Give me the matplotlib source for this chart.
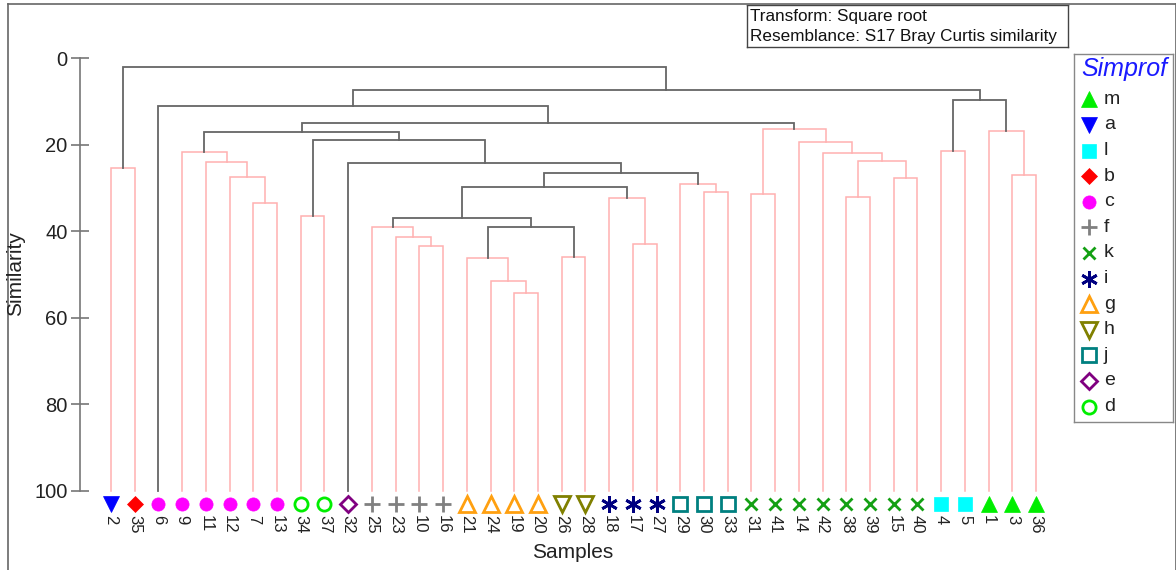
import matplotlib
matplotlib.use('Agg')
import matplotlib.pyplot as plt
from matplotlib.lines import Line2D

plt.rcParams['font.family'] = ['Liberation Sans', 'DejaVu Sans']

# ===================== data =====================
leaves = [2, 35, 6, 9, 11, 12, 7, 13, 34, 37, 32, 25, 23, 10, 16, 21, 24, 19, 20, 26,
          28, 18, 17, 27, 29, 30, 33, 31, 41, 14, 42, 38, 39, 15, 40, 4, 5, 1, 3, 36]
leaf_groups = ['a', 'b', 'c', 'c', 'c', 'c', 'c', 'c', 'd', 'd', 'e', 'f', 'f', 'f', 'f',
               'g', 'g', 'g', 'g', 'h', 'h', 'i', 'i', 'i', 'j', 'j', 'j',
               'k', 'k', 'k', 'k', 'k', 'k', 'k', 'k', 'l', 'l', 'm', 'm', 'm']

# merges: node id, left child, right child, similarity, simprof significant
merge_ids = ['n1', 'n2', 'n3', 'n4', 'n5', 'n6', 'n7', 'n8', 'n9', 'n10', 'n11', 'n12',
             'n13', 'n14', 'n15', 'n16', 'n17', 'n18', 'n19', 'n20', 'n21', 'n22', 'n23',
             'n24', 'n25', 'n26', 'n27', 'n28', 'n29', 'n30', 'n31', 'n32', 'n33', 'n34',
             'n35', 'n36', 'n37', 'n38', 'n39']
merge_left = [2, 7, 12, 11, 9, 34, 10, 23, 25, 19, 24, 21,
              26, 17, 18, 30, 29, 31, 38, 15, 'n19', 42, 14,
              'n18', 4, 3, 1, 'n12', 'n9', 'n29', 'n30', 32, 'n6', 'n5',
              'n34', 6, 'n25', 'n36', 'n1']
merge_right = [35, 13, 'n2', 'n3', 'n4', 37, 16, 'n7', 'n8', 20, 'n10', 'n11',
               28, 27, 'n14', 33, 'n16', 41, 39, 40, 'n20', 'n21', 'n22',
               'n23', 5, 36, 'n26', 'n13', 'n28', 'n15', 'n17', 'n31', 'n32', 'n33',
               'n24', 'n35', 'n27', 'n37', 'n38']
merge_sim = [25.4, 33.4, 27.5, 24.05, 21.6, 36.6, 43.4, 41.3, 38.95, 54.35, 51.5, 46.1,
             46.0, 43.0, 32.4, 30.85, 29.15, 31.45, 32.0, 27.6, 23.9, 21.95, 19.5,
             16.4, 21.45, 27.0, 16.95, 38.95, 37.0, 29.8, 26.6, 24.3, 18.9, 17.2,
             15.05, 11.2, 9.65, 7.35, 2.1]
merge_sig = [False] * 27 + [True] * 12

legend_groups = ['m', 'a', 'l', 'b', 'c', 'f', 'k', 'i', 'g', 'h', 'j', 'e', 'd']

# symbol per Simprof group: marker, colour, filled
group_style = {
    'm': ('^', '#00ee00', True),
    'a': ('v', '#0000ff', True),
    'l': ('s', '#00ffff', True),
    'b': ('D', '#ff0000', True),
    'c': ('o', '#ff00ff', True),
    'f': ('+', '#808080', False),
    'k': ('x', '#14a014', False),
    'i': ((6, 2, 0), '#000080', False),
    'g': ('^', '#ffa010', False),
    'h': ('v', '#808000', False),
    'j': ('s', '#008080', False),
    'e': ('D', '#800080', False),
    'd': ('o', '#00ee00', False),
}
marker_size = {'^': 11.5, 'v': 11.5, 's': 9.5, 'D': 8, 'o': 9.5, '+': 12, 'x': 9,
               (6, 2, 0): 12}


def draw_marker(ax, x, y, g, **kw):
    m, c, filled = group_style[g]
    ms = marker_size[m]
    if filled:
        ax.plot(x, y, marker=m, color=c, markersize=ms, markeredgewidth=0.5,
                linestyle='none', **kw)
    else:
        ax.plot(x, y, marker=m, markerfacecolor='none', markeredgecolor=c,
                markersize=ms, markeredgewidth=2, linestyle='none', **kw)


RED = '#ffb0b0'
GREY = '#666666'
TXT = '#222222'

W, H = 1176, 570


def fx(px):
    return px / W


def fy(py):
    return 1 - py / H


fig = plt.figure(figsize=(W / 100, H / 100), dpi=100)

# ===================== dendrogram =====================
ax = fig.add_axes([fx(80), fy(491), fx(1060) - fx(80), fy(58) - fy(491)])
step = 23.72
ax.set_xlim(-(111 - 80) / step, (1060 - 111) / step)
ax.set_ylim(100, 0)

pos = {lab: (i, 100.0) for i, lab in enumerate(leaves)}
merges = {mid: (l, r, s, sig) for mid, l, r, s, sig in
          zip(merge_ids, merge_left, merge_right, merge_sim, merge_sig)}


def node_pos(n):
    if n not in pos:
        l, r, s, _ = merges[n]
        xl, _ = node_pos(l)
        xr, _ = node_pos(r)
        pos[n] = ((xl + xr) / 2, s)
    return pos[n]


# red (non significant) first so the grey links stay on top
for sig_pass in (False, True):
    for mid in merge_ids:
        l, r, s, sig = merges[mid]
        if sig != sig_pass:
            continue
        xl, yl = node_pos(l)
        xr, yr = node_pos(r)
        col = GREY if sig else RED
        lw = 1.3 if sig else 1.1
        ax.plot([xl, xl, xr, xr], [yl, s, s, yr], color=col, lw=lw,
                solid_joinstyle='miter', clip_on=False)

for i, (lab, g) in enumerate(zip(leaves, leaf_groups)):
    draw_marker(ax, i, 103.0, g, clip_on=False)
    ax.text(i, 105.6, str(lab), rotation=270, ha='center', va='top', fontsize=12,
            color=TXT, clip_on=False)

for sp in ['top', 'right', 'bottom']:
    ax.spines[sp].set_visible(False)
ax.spines['left'].set_color('#777777')
ax.spines['left'].set_linewidth(1.2)
ax.set_xticks([])
ax.set_yticks([0, 20, 40, 60, 80, 100])
ax.tick_params(axis='y', direction='inout', length=13, width=1.2, color='#777777',
               labelsize=14.5, labelcolor=TXT, pad=2.5)
ax.patch.set_alpha(0)

fig.text(fx(573), fy(553), 'Samples', ha='center', va='center', fontsize=15, color=TXT)
fig.text(fx(16), fy(274), 'Similarity', ha='center', va='center', rotation=90,
         fontsize=15, color=TXT)

# ===================== info box =====================
box = fig.add_axes([fx(747), fy(47), fx(1068) - fx(747), fy(5) - fy(47)])
box.set_xlim(747, 1068)
box.set_ylim(47, 5)
box.set_xticks([])
box.set_yticks([])
for sp in box.spines.values():
    sp.set_color('#444444')
    sp.set_linewidth(1.0)
box.text(750, 16, 'Transform: Square root', fontsize=12.3, va='center', ha='left',
         color='#111111')
box.text(750, 36.5, 'Resemblance: S17 Bray Curtis similarity', fontsize=12.3,
         va='center', ha='left', color='#111111')

# ===================== legend =====================
leg = fig.add_axes([fx(1074), fy(422), fx(1173) - fx(1074), fy(54) - fy(422)])
leg.set_xlim(1074, 1173)
leg.set_ylim(422, 54)
leg.set_xticks([])
leg.set_yticks([])
for sp in leg.spines.values():
    sp.set_color('#888888')
    sp.set_linewidth(1.0)
leg.text(1124.5, 69, 'Simprof', ha='center', va='center', fontsize=18, style='italic',
         color='#1a1aff')
for k, g in enumerate(legend_groups):
    yy = 99.3 + 25.6 * k
    draw_marker(leg, 1088.5, yy, g)
    leg.text(1104, yy, g, ha='left', va='center', fontsize=14, color=TXT)

# ===================== outer frame =====================
frame_col = '#666666'
fig.add_artist(Line2D([fx(8), fx(8)], [fy(570), fy(4)], color=frame_col, lw=1.2))
fig.add_artist(Line2D([fx(8), fx(1175.5)], [fy(4), fy(4)], color=frame_col, lw=1.2))
fig.add_artist(Line2D([fx(1175.5), fx(1175.5)], [fy(4), fy(570)], color=frame_col, lw=1.2))

fig.savefig('out.png', dpi=100)
